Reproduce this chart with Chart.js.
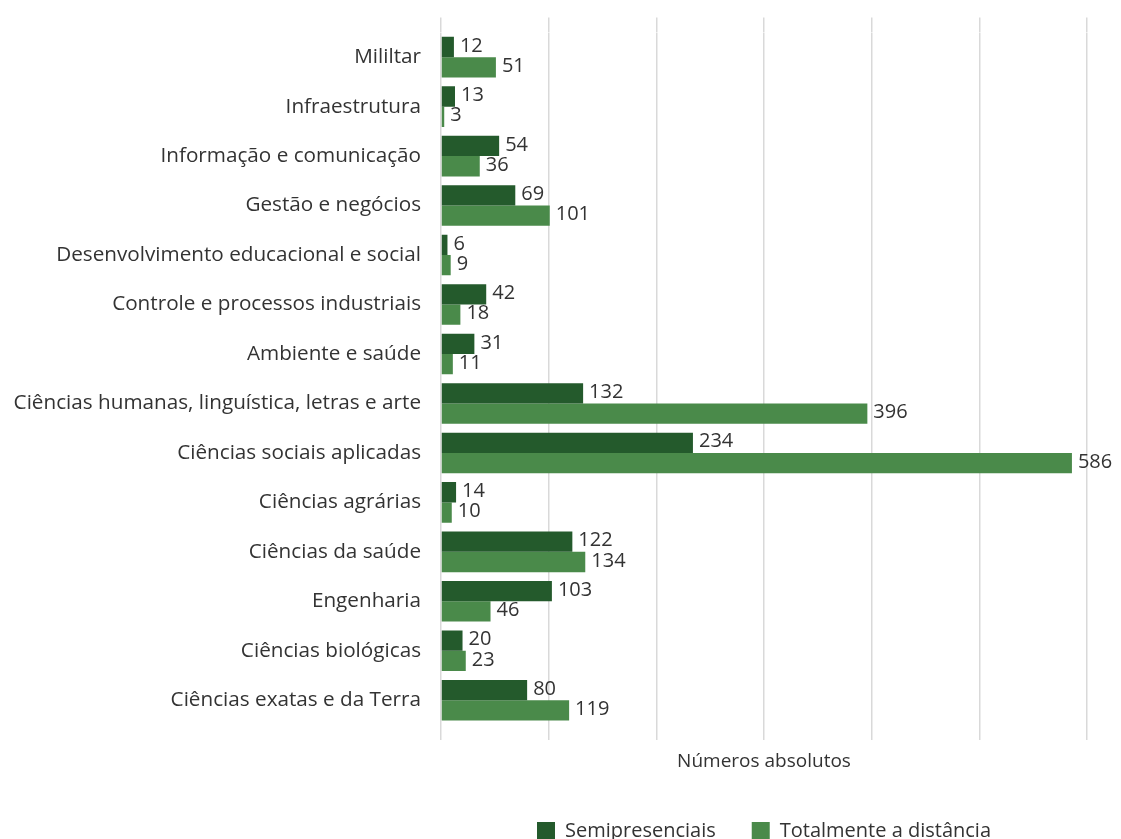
<!DOCTYPE html>
<html lang="pt-BR">
<head>
<meta charset="utf-8">
<title>Cursos por área</title>
<script src="https://cdn.jsdelivr.net/npm/chart.js@4.4.1/dist/chart.umd.min.js"></script>
<style>
  html, body { margin: 0; padding: 0; background: #fff; }
  #wrap { width: 1121px; height: 839px; }
</style>
</head>
<body>
<div id="wrap"><canvas id="areasChart" width="1121" height="839"></canvas></div>
<script>
// Áreas (de cima para baixo)
const areas = [
  'Mililtar',
  'Infraestrutura',
  'Informação e comunicação',
  'Gestão e negócios',
  'Desenvolvimento educacional e social',
  'Controle e processos industriais',
  'Ambiente e saúde',
  'Ciências humanas, linguística, letras e arte',
  'Ciências sociais aplicadas',
  'Ciências agrárias',
  'Ciências da saúde',
  'Engenharia',
  'Ciências biológicas',
  'Ciências exatas e da Terra'
];

// Números absolutos por modalidade
const semipresenciais = [12, 13, 54, 69, 6, 42, 31, 132, 234, 14, 122, 103, 20, 80];
const totalmenteDistancia = [51, 3, 36, 101, 9, 18, 11, 396, 586, 10, 134, 46, 23, 119];

const corTexto = '#333333';
const corGrade = '#d9d9d9';
const fonte = 'Open Sans, Noto Sans, sans-serif';

// Escreve o valor no fim de cada barra
const rotulosValores = {
  id: 'rotulosValores',
  afterDatasetsDraw(chart) {
    const c = chart.ctx;
    c.save();
    c.font = '20px ' + fonte;
    c.fillStyle = corTexto;
    c.textAlign = 'left';
    c.textBaseline = 'middle';
    chart.data.datasets.forEach((ds, i) => {
      const meta = chart.getDatasetMeta(i);
      meta.data.forEach((barra, j) => {
        c.fillText(ds.data[j], barra.x + 6, barra.y - 1);
      });
    });
    c.restore();
  }
};

const ctx = document.getElementById('areasChart').getContext('2d');
const areasChart = new Chart(ctx, {
  type: 'bar',
  data: {
    labels: areas,
    datasets: [{
      label: 'Semipresenciais',
      data: semipresenciais,
      backgroundColor: '#245a2c',
      categoryPercentage: 0.82,
      barPercentage: 1.0
    }, {
      label: 'Totalmente a distância',
      data: totalmenteDistancia,
      backgroundColor: '#4a8a4a',
      categoryPercentage: 0.82,
      barPercentage: 1.0
    }]
  },
  options: {
    indexAxis: 'y',
    responsive: false,
    animation: false,
    layout: {
      padding: { top: 11, right: 34, left: 0, bottom: -12 }
    },
    scales: {
      x: {
        position: 'bottom',
        min: 0,
        max: 600,
        ticks: { display: false, stepSize: 100 },
        grid: { color: corGrade, lineWidth: 1.5, tickLength: 15, drawTicks: true },
        border: { display: false },
        title: {
          display: true,
          text: 'Números absolutos',
          color: corTexto,
          font: { size: 19, family: fonte },
          padding: { top: 8, bottom: 12 }
        },
        afterFit(scale) { scale.height = 60; }
      },
      x2: {
        position: 'top',
        min: 0,
        max: 600,
        ticks: { display: false, stepSize: 100 },
        grid: { color: corGrade, lineWidth: 1.5, tickLength: 15, drawOnChartArea: false },
        border: { display: false }
      },
      y: {
        ticks: {
          color: corTexto,
          font: { size: 20.7, family: fonte },
          padding: 20
        },
        grid: { display: false, drawTicks: false },
        border: { display: false },
        afterFit(scale) { scale.width = 441; }
      }
    },
    plugins: {
      tooltip: { enabled: false },
      legend: {
        position: 'bottom',
        fullSize: false,
        labels: {
          color: corTexto,
          font: { size: 20, family: fonte },
          boxWidth: 18,
          boxHeight: 18,
          padding: 36
        }
      }
    }
  },
  plugins: [rotulosValores]
});
</script>
</body>
</html>
